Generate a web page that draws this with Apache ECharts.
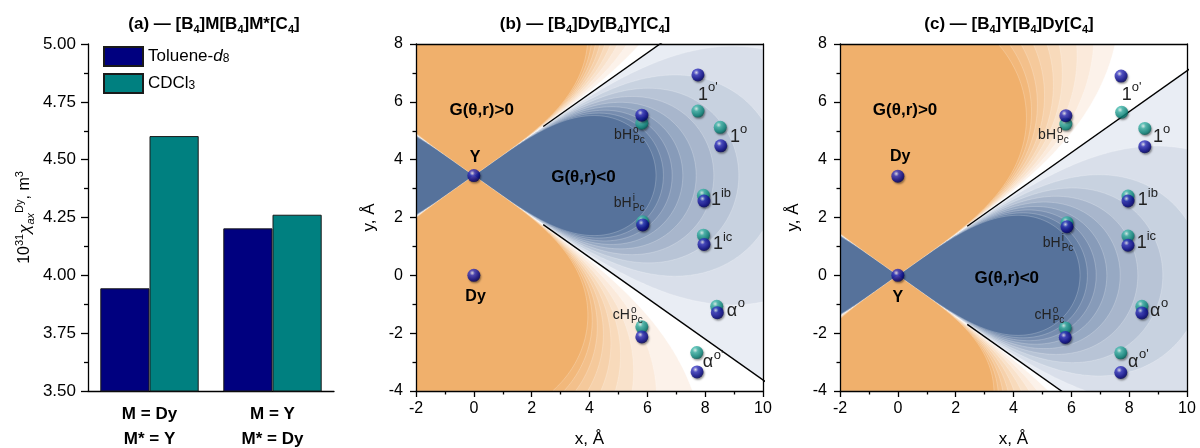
<!DOCTYPE html>
<html>
<head>
<meta charset="utf-8">
<title>G(theta,r) maps</title>
<script src="https://cdn.jsdelivr.net/npm/echarts@6/dist/echarts.min.js"></script>
<style>
  html, body { margin: 0; padding: 0; background: #fff; }
  #chart { width: 1200px; height: 448px; }
</style>
</head>
<body>
<div id="chart"></div>
<script>
var FONT = '"Liberation Sans", Arial, sans-serif';

// ---- panel (a): bar data ----
var cats = ['M = Dy\nM* = Y', 'M = Y\nM* = Dy'];
var toluene = [3.944, 4.203];
var cdcl3 = [4.602, 4.262];

// ---- panels (b), (c): cone centre (Y atom) and contour levels of |G|, A^-3 ----
var centreB = [0, 3.45];
var centreC = [0, 0];
var levelsBlue = [4.0e-3, 3.55e-3, 3.1e-3, 2.65e-3, 2.2e-3, 1.75e-3, 1.3e-3, 0.85e-3, 0.4e-3];
// orange lobes: [upper lobe levels, lower lobe levels]
var levelsOrangeB = [[3.3e-3, 2.95e-3, 2.6e-3, 2.25e-3, 1.9e-3, 1.55e-3, 1.2e-3, 0.8e-3, 0.4e-3],
                     [3.3e-3, 2.95e-3, 2.6e-3, 2.25e-3, 1.9e-3, 1.55e-3, 1.2e-3, 0.8e-3, 0.4e-3]];
var levelsOrangeC = [[2.3e-3, 2.05e-3, 1.8e-3, 1.55e-3, 1.3e-3, 1.1e-3, 0.85e-3, 0.65e-3, 0.45e-3],
                     [5.5e-3, 4.8e-3, 4.1e-3, 3.4e-3, 2.7e-3, 2.0e-3, 1.4e-3, 0.9e-3, 0.4e-3]];
var blueCols = ['#56729b', '#6680a5', '#778daf', '#879bb9', '#97a9c3', '#a8b6cc', '#b8c4d6', '#c8d2e0', '#d9dfea', '#e9edf4'];
var orangeCols = ['#f0b06c', '#f2b87b', '#f3c08b', '#f5c99b', '#f6d1ab', '#f8dabb', '#f9e2cb', '#fbeadb', '#fcf2ea'];

// atoms (x, y in A)
var navyB = [[0, 3.45], [0, 0], [5.81, 5.54], [7.75, 6.93], [8.54, 4.48], [7.96, 2.57], [5.84, 1.74], [7.96, 1.07], [5.81, -2.13], [8.42, -1.29], [7.72, -3.34]];
var tealB = [[5.81, 5.26], [7.75, 5.68], [8.52, 5.12], [7.94, 2.77], [5.84, 1.85], [7.94, 1.39], [5.81, -1.78], [8.40, -1.07], [7.71, -2.67]];
var navyC = [[0, 0], [0, 3.43], [5.81, 5.52], [7.72, 6.89], [8.54, 4.45], [7.96, 2.57], [5.85, 1.68], [7.96, 1.04], [5.79, -2.15], [8.44, -1.30], [7.71, -3.36]];
var tealC = [[5.81, 5.23], [7.74, 5.64], [8.54, 5.08], [7.96, 2.74], [5.85, 1.82], [7.96, 1.36], [5.79, -1.82], [8.44, -1.07], [7.71, -2.68]];

// labels
var boldLabB = [['Y', 0.04, 4.06], ['Dy', 0.06, -0.74], ['G(θ,r)>0', 0.27, 5.72], ['G(θ,r)<0', 3.79, 3.40]];
var boldLabC = [['Dy', 0.08, 4.10], ['Y', 0.0, -0.78], ['G(θ,r)>0', 0.25, 5.72], ['G(θ,r)<0', 3.77, -0.09]];
var hLabB = [['bH', 'o', 'Pc', 5.47, 4.85], ['bH', 'i', 'Pc', 5.46, 2.49], ['cH', 'o', 'Pc', 5.40, -1.37]];
var hLabC = [['bH', 'o', 'Pc', 5.47, 4.85], ['bH', 'i', 'Pc', 5.63, 1.12], ['cH', 'o', 'Pc', 5.32, -1.37]];
var supLabB = [['1', "o'", 7.75, 6.24], ['1', 'o', 8.86, 4.80], ['1', 'ib', 8.20, 2.60], ['1', 'ic', 8.27, 1.08], ['α', 'o', 8.75, -1.23], ['α', "o'", 7.92, -3.00]];
var supLabC = [['1', "o'", 7.74, 6.24], ['1', 'o', 8.82, 4.80], ['1', 'ib', 8.30, 2.60], ['1', 'ic', 8.26, 1.11], ['α', 'o', 8.72, -1.22], ['α', "o'", 7.96, -2.99]];

var XR = [-2, 10], YR = [-4, 8];

// Sutherland-Hodgman clip of a polygon to the plot box
function clipPoly(pts) {
  var bounds = [[0, XR[0], 1], [0, XR[1], -1], [1, YR[0], 1], [1, YR[1], -1]];
  bounds.forEach(function (b) {
    var out = [], ax = b[0], v = b[1], s = b[2];
    for (var i = 0; i < pts.length; i++) {
      var a = pts[i], c = pts[(i + 1) % pts.length];
      var ina = (a[ax] - v) * s >= 0, inc = (c[ax] - v) * s >= 0;
      if (ina) out.push(a);
      if (ina !== inc) {
        var t = (v - a[ax]) / (c[ax] - a[ax]);
        out.push([a[0] + t * (c[0] - a[0]), a[1] + t * (c[1] - a[1])]);
      }
    }
    pts = out;
  });
  return pts;
}

var PHI_B = Math.asin(1 / Math.sqrt(3));   // half-angle of G<0 cone (from x)
var PHI_O = Math.acos(1 / Math.sqrt(3));   // half-angle of G>0 cone (from y)

// level set |G| = c of G = (3cos^2θ-1)/r^3 in one lobe
function lobe(c, level, dir, blue) {
  var lim = blue ? PHI_B : PHI_O, pts = [], n = 300;
  for (var i = 0; i <= n; i++) {
    var phi = lim * Math.sin((-1 + 2 * i / n) * Math.PI / 2);
    var s = Math.sin(phi), co = Math.cos(phi);
    var h = blue ? 1 - 3 * s * s : 3 * co * co - 1;
    var r = Math.cbrt(Math.max(h, 0) / level);
    pts.push([c[0] + r * (co * dir[0] - s * dir[1]), c[1] + r * (co * dir[1] + s * dir[0])]);
  }
  return pts;
}

function wedge(c, dir) {
  var pts = [c.slice()], R = 40;
  for (var i = 0; i <= 40; i++) {
    var phi = -PHI_B + 2 * PHI_B * i / 40;
    var s = Math.sin(phi), co = Math.cos(phi);
    pts.push([c[0] + R * (co * dir[0] - s * dir[1]), c[1] + R * (co * dir[1] + s * dir[0])]);
  }
  return pts;
}

function buildPolys(c, lvO) {
  var polys = [];
  [[1, 0], [-1, 0]].forEach(function (d) {
    polys.push({ pts: clipPoly(wedge(c, d)), fill: blueCols[9] });
  });
  for (var k = levelsBlue.length - 1; k >= 0; k--) {
    [[1, 0], [-1, 0]].forEach(function (d) {
      polys.push({ pts: clipPoly(lobe(c, levelsBlue[k], d, true)), fill: blueCols[k] });
    });
    polys.push({ pts: clipPoly(lobe(c, lvO[0][k], [0, 1], false)), fill: orangeCols[k] });
    polys.push({ pts: clipPoly(lobe(c, lvO[1][k], [0, -1], false)), fill: orangeCols[k] });
  }
  return polys.filter(function (p) { return p.pts.length > 2; });
}

function contourSeries(axisIdx, c, lvO) {
  var polys = buildPolys(c, lvO);
  return {
    type: 'custom', xAxisIndex: axisIdx, yAxisIndex: axisIdx, z: 1, silent: true,
    data: polys.map(function (p) { return [p.pts[0][0], p.pts[0][1]]; }),
    renderItem: function (params, api) {
      var p = polys[params.dataIndex];
      return {
        type: 'polygon',
        shape: { points: p.pts.map(function (q) { return api.coord(q); }) },
        style: { fill: p.fill, stroke: 'rgba(255,255,255,0.35)', lineWidth: 0.6 }
      };
    }
  };
}

// black G=0 lines on the right side of the cone
function coneLines(axisIdx, c) {
  var k = Math.tan(PHI_B), x0 = 2.4, x1 = 14;
  return [1, -1].map(function (sgn) {
    return {
      type: 'line', xAxisIndex: axisIdx, yAxisIndex: axisIdx, z: 3, silent: true,
      symbol: 'none', lineStyle: { color: '#000', width: 1.4 },
      data: [[x0, c[1] + sgn * k * x0], [x1, c[1] + sgn * k * x1]]
    };
  });
}

function ball(cols) {
  return {
    type: 'radial', x: 0.38, y: 0.32, r: 0.72,
    colorStops: [{ offset: 0, color: cols[0] }, { offset: 0.28, color: cols[1] }, { offset: 0.75, color: cols[2] }, { offset: 1, color: cols[3] }]
  };
}
var navyBall = ball(['#eeeeff', '#3c3cc8', '#08088a', '#00004a']);
var tealBall = ball(['#e6fffa', '#45bdb0', '#0e8a7f', '#03534c']);

function atomSeries(axisIdx, data, grad, z) {
  return {
    type: 'scatter', xAxisIndex: axisIdx, yAxisIndex: axisIdx, z: z, silent: true,
    symbol: 'circle', symbolSize: 13, data: data,
    itemStyle: { color: grad, shadowBlur: 2, shadowColor: 'rgba(0,0,0,0.5)', shadowOffsetX: 1, shadowOffsetY: 1.5 }
  };
}

function labelSeries(axisIdx, bold, hl, sl) {
  var items = [];
  bold.forEach(function (l) { items.push({ k: 'b', t: l[0], x: l[1], y: l[2] }); });
  hl.forEach(function (l) { items.push({ k: 'h', t: l[0], sup: l[1], sub: l[2], x: l[3], y: l[4] }); });
  sl.forEach(function (l) { items.push({ k: 's', t: l[0], sup: l[1], x: l[2], y: l[3] }); });
  return {
    type: 'custom', xAxisIndex: axisIdx, yAxisIndex: axisIdx, z: 8, silent: true,
    data: items.map(function (it) { return [it.x, it.y]; }),
    renderItem: function (params, api) {
      var it = items[params.dataIndex];
      var p = api.coord([it.x, it.y]);
      if (it.k === 'b') {
        var big = it.t.length > 3;
        return { type: 'text', x: p[0], y: p[1], style: { text: it.t, fill: '#000', font: 'bold ' + (big ? 17 : 16) + 'px ' + FONT, align: 'center', verticalAlign: 'middle' } };
      }
      if (it.k === 'h') {
        return { type: 'group', children: [
          { type: 'text', x: p[0], y: p[1], style: { text: it.t, fill: '#222', font: '14px ' + FONT, align: 'right', verticalAlign: 'middle' } },
          { type: 'text', x: p[0] + 1, y: p[1] - 5, style: { text: it.sup, fill: '#222', font: '10px ' + FONT, align: 'left', verticalAlign: 'middle' } },
          { type: 'text', x: p[0] + 1, y: p[1] + 5, style: { text: it.sub, fill: '#222', font: '10px ' + FONT, align: 'left', verticalAlign: 'middle' } }
        ] };
      }
      var w = it.t === 'α' ? 11 : 10;
      return { type: 'group', children: [
        { type: 'text', x: p[0], y: p[1], style: { text: it.t, fill: '#222', font: '18px ' + FONT, align: 'left', verticalAlign: 'middle' } },
        { type: 'text', x: p[0] + w, y: p[1] - 7, style: { text: it.sup, fill: '#222', font: '13px ' + FONT, align: 'left', verticalAlign: 'middle' } }
      ] };
    }
  };
}

var tickStyle = { color: '#000', width: 1.3 };
var lblStyle = { color: '#000', fontSize: 16, fontFamily: FONT };

function mapAxes(gi) {
  var xs = [
    { gridIndex: gi, type: 'value', min: XR[0], max: XR[1], interval: 2, position: 'bottom', z: 10,
      axisLine: { onZero: false, lineStyle: tickStyle },
      axisTick: { length: 6, lineStyle: tickStyle },
      minorTick: { show: true, splitNumber: 2, length: 3.5, lineStyle: tickStyle },
      axisLabel: Object.assign({ margin: 10 }, lblStyle), splitLine: { show: false },
      name: 'x, Å', nameLocation: 'middle', nameGap: 40, nameTextStyle: { color: '#000', fontSize: 17, fontFamily: FONT } },
    { gridIndex: gi, type: 'value', min: XR[0], max: XR[1], interval: 2, position: 'top', z: 10,
      axisLine: { onZero: false, lineStyle: tickStyle }, axisTick: { show: false }, axisLabel: { show: false }, splitLine: { show: false } }
  ];
  var ys = [
    { gridIndex: gi, type: 'value', min: YR[0], max: YR[1], interval: 2, position: 'left', z: 10,
      axisLine: { onZero: false, lineStyle: tickStyle },
      axisTick: { length: 6, lineStyle: tickStyle },
      minorTick: { show: true, splitNumber: 2, length: 3.5, lineStyle: tickStyle },
      axisLabel: Object.assign({ margin: 13 }, lblStyle), splitLine: { show: false },
      name: 'y, Å', nameLocation: 'middle', nameRotate: 90, nameGap: 38, nameTextStyle: { color: '#000', fontSize: 17, fontFamily: FONT } },
    { gridIndex: gi, type: 'value', min: YR[0], max: YR[1], interval: 2, position: 'right', z: 10,
      axisLine: { onZero: false, lineStyle: tickStyle }, axisTick: { show: false }, axisLabel: { show: false }, splitLine: { show: false } }
  ];
  return { x: xs, y: ys };
}

var axB = mapAxes(1), axC = mapAxes(2);

var titleRich = {
  b: { fontSize: 17, fontWeight: 'bold', color: '#000', fontFamily: FONT, lineHeight: 22 },
  s: { fontSize: 11, fontWeight: 'bold', color: '#000', fontFamily: FONT, lineHeight: 12, verticalAlign: 'bottom' }
};
function title(text, x) {
  return { text: text, left: x, top: 8, textAlign: 'center', textStyle: { rich: titleRich } };
}

var option = {
  animation: false,
  backgroundColor: '#fff',
  title: [
    title('{b|(a) — [B}{s|4}{b|]M[B}{s|4}{b|]M*[C}{s|4}{b|]}', 209),
    title('{b|(b) — [B}{s|4}{b|]Dy[B}{s|4}{b|]Y[C}{s|4}{b|]}', 580),
    title('{b|(c) — [B}{s|4}{b|]Y[B}{s|4}{b|]Dy[C}{s|4}{b|]}', 1004)
  ],
  legend: {
    left: 98, top: 41, orient: 'vertical', itemWidth: 39, itemHeight: 19, itemGap: 6,
    selectedMode: false, icon: 'rect',
    textStyle: { color: '#000', fontSize: 17, fontFamily: FONT,
      rich: { i: { fontStyle: 'italic', fontSize: 17, fontFamily: FONT, color: '#000' },
              s: { fontSize: 12, fontFamily: FONT, color: '#000', verticalAlign: 'bottom', lineHeight: 12 } } },
    formatter: function (n) {
      return n === 'Toluene-d8' ? 'Toluene-{i|d}{s|8}' : 'CDCl{s|3}';
    },
    data: ['Toluene-d8', 'CDCl3']
  },
  grid: [
    { left: 88, top: 44, width: 246, height: 347, outerBoundsMode: 'none' },
    { left: 416, top: 44, width: 347, height: 347, outerBoundsMode: 'none' },
    { left: 840, top: 44, width: 347, height: 347, outerBoundsMode: 'none' }
  ],
  xAxis: [
    { gridIndex: 0, type: 'category', data: cats,
      axisLine: { lineStyle: tickStyle },
      axisTick: { alignWithLabel: true, length: 7, lineStyle: tickStyle },
      axisLabel: { color: '#000', fontSize: 17, fontWeight: 'bold', fontFamily: FONT, lineHeight: 25, margin: 11 } }
  ].concat(axB.x, axC.x),
  yAxis: [
    { gridIndex: 0, type: 'value', min: 3.5, max: 5, interval: 0.25,
      axisLine: { show: true, lineStyle: tickStyle },
      axisTick: { show: true, length: 7, lineStyle: tickStyle },
      minorTick: { show: true, splitNumber: 2, length: 4, lineStyle: tickStyle },
      splitLine: { show: false },
      axisLabel: { color: '#000', fontSize: 17, fontFamily: FONT, margin: 12, formatter: function (v) { return v.toFixed(2); } },
      name: '{n|10}{p|31}{c|χ}{b|ax}{p|Dy}{n|, m}{p|3}', nameLocation: 'middle', nameRotate: 90, nameGap: 52,
      nameTextStyle: { rich: {
        n: { fontSize: 16, fontFamily: FONT, color: '#000', lineHeight: 22 },
        c: { fontSize: 17, fontFamily: FONT, color: '#000', fontStyle: 'italic', lineHeight: 22 },
        p: { fontSize: 11, fontFamily: FONT, color: '#000', verticalAlign: 'top', lineHeight: 12 },
        b: { fontSize: 11, fontFamily: FONT, color: '#000', fontStyle: 'italic', verticalAlign: 'bottom', lineHeight: 12 }
      } } }
  ].concat(axB.y, axC.y),
  series: [
    { name: 'Toluene-d8', type: 'bar', xAxisIndex: 0, yAxisIndex: 0, data: toluene,
      barGap: '0%', barCategoryGap: '20%',
      itemStyle: { color: '#00007f', borderColor: '#1a1a1a', borderWidth: 1 } },
    { name: 'CDCl3', type: 'bar', xAxisIndex: 0, yAxisIndex: 0, data: cdcl3,
      barGap: '0%', barCategoryGap: '20%',
      itemStyle: { color: '#008080', borderColor: '#1a1a1a', borderWidth: 1 } },

    contourSeries(1, centreB, levelsOrangeB),
    contourSeries(3, centreC, levelsOrangeC)
  ].concat(
    coneLines(1, centreB), coneLines(3, centreC),
    [atomSeries(1, tealB, tealBall, 5), atomSeries(1, navyB, navyBall, 6),
     atomSeries(3, tealC, tealBall, 5), atomSeries(3, navyC, navyBall, 6),
     labelSeries(1, boldLabB, hLabB, supLabB), labelSeries(3, boldLabC, hLabC, supLabC)]
  )
};

var chart = echarts.init(document.getElementById('chart'), null, { renderer: 'canvas' });
chart.setOption(option);
</script>
</body>
</html>
